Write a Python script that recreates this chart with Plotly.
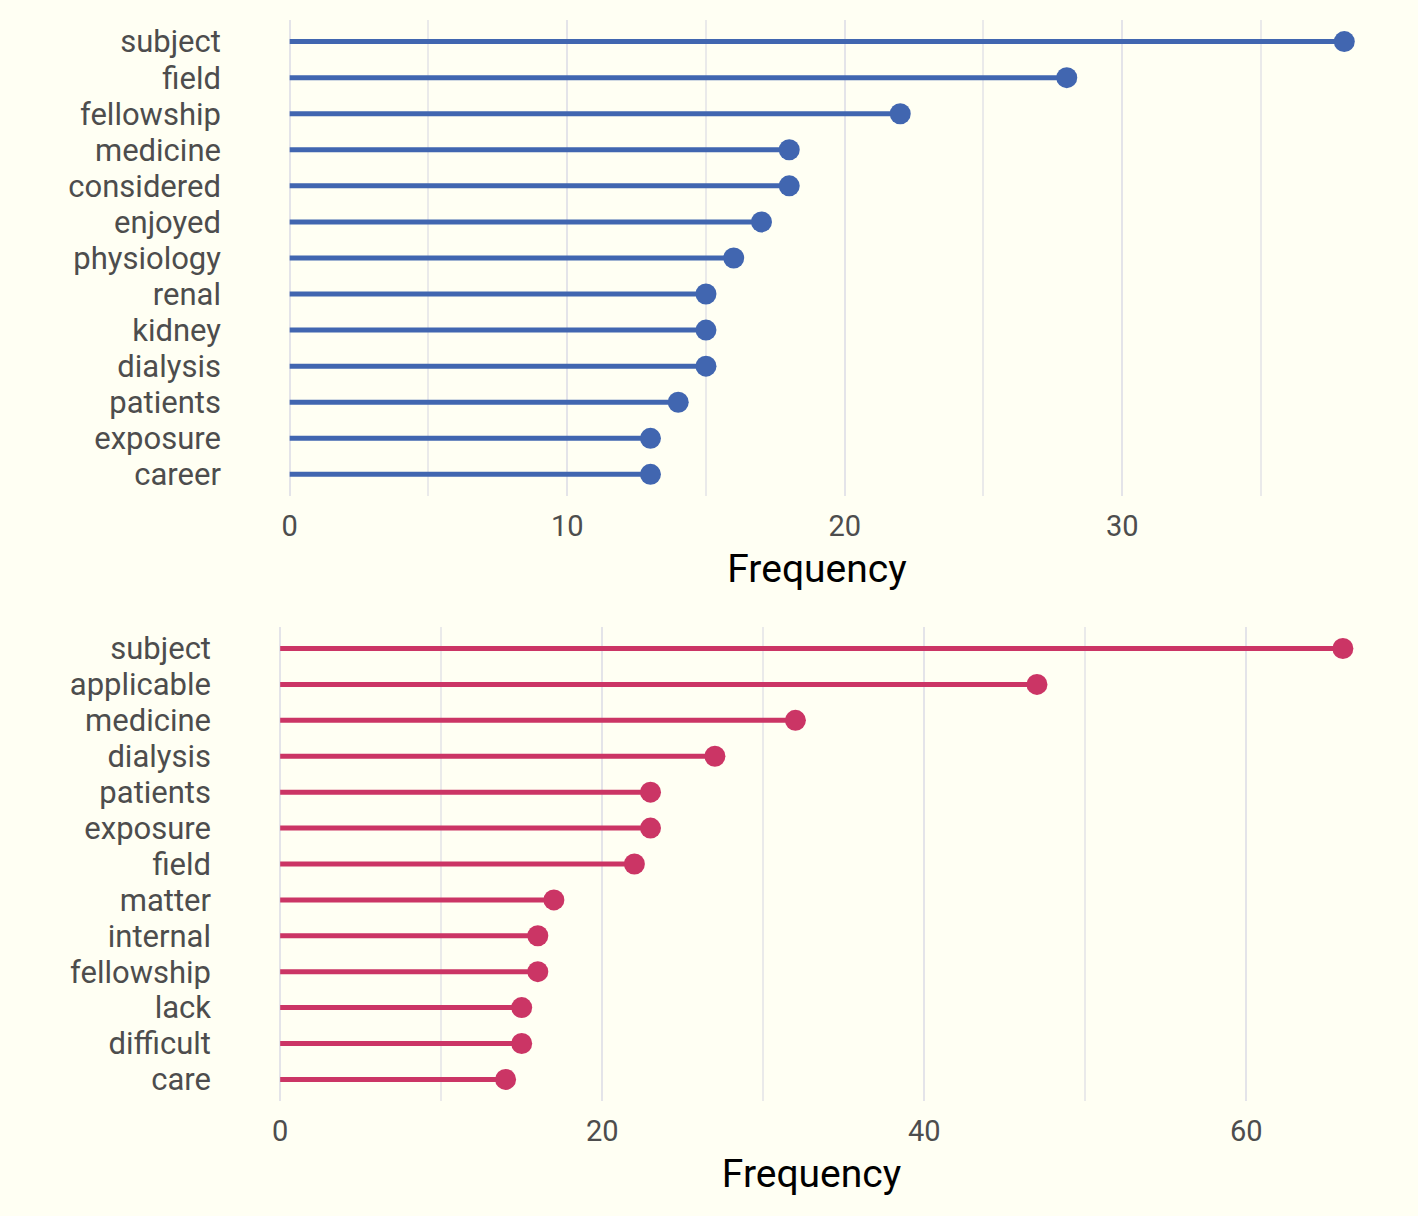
import plotly.graph_objects as go

# word frequencies, top panel (ordered top to bottom)
words_top = ["subject", "field", "fellowship", "medicine", "considered", "enjoyed",
             "physiology", "renal", "kidney", "dialysis", "patients", "exposure", "career"]
freq_top = [38, 28, 22, 18, 18, 17, 16, 15, 15, 15, 14, 13, 13]

# word frequencies, bottom panel
words_bottom = ["subject", "applicable", "medicine", "dialysis", "patients", "exposure", "field",
                "matter", "internal", "fellowship", "lack", "difficult", "care"]
freq_bottom = [66, 47, 32, 27, 23, 23, 22, 17, 16, 16, 15, 15, 14]

BG = "#FFFFF3"
BLUE = "#4166B0"
PINK = "#CB3565"
FONT = "Roboto"


def stems(words, values):
    xs, ys = [], []
    for w, v in zip(words, values):
        xs += [0, v, None]
        ys += [w, w, None]
    return xs, ys


fig = go.Figure()

for words, values, color, xa, ya in [
    (words_top, freq_top, BLUE, "x", "y"),
    (words_bottom, freq_bottom, PINK, "x2", "y2"),
]:
    xs, ys = stems(words, values)
    fig.add_trace(go.Scatter(x=xs, y=ys, mode="lines", line=dict(color=color, width=5),
                             xaxis=xa, yaxis=ya, hoverinfo="skip", showlegend=False))
    fig.add_trace(go.Scatter(x=values, y=words, mode="markers",
                             marker=dict(color=color, size=21),
                             xaxis=xa, yaxis=ya, showlegend=False))


def xaxis_style(domain, anchor, rng, dtick):
    return dict(
        domain=domain, anchor=anchor, range=rng, dtick=dtick,
        showgrid=True, gridcolor="#E4E4E9", gridwidth=2, zeroline=False,
        minor=dict(dtick=dtick / 2, showgrid=True, gridcolor="#EAEAEA", gridwidth=1.5),
        showline=False, ticks="", ticklabelstandoff=10,
        tickfont=dict(family=FONT, size=29, color="#4D4D4D"),
        title=dict(text="Frequency", font=dict(family=FONT, size=39, color="#000000"), standoff=12),
    )


def yaxis_style(domain, anchor, words):
    return dict(
        domain=domain, anchor=anchor, type="category",
        categoryorder="array", categoryarray=words,
        tickmode="array", tickvals=words, ticktext=words,
        range=[len(words) - 0.4, -0.6],
        showgrid=False, zeroline=False, showline=False, ticks="", ticklabelstandoff=15,
        tickfont=dict(family=FONT, size=31, color="#4D4D4D"),
    )


fig.update_layout(
    width=1418, height=1216,
    margin=dict(l=0, r=0, t=0, b=0),
    paper_bgcolor=BG, plot_bgcolor=BG,
    xaxis=xaxis_style([0.1671, 0.9852], "y", [-1.9, 39.9], 10),
    yaxis=yaxis_style([0.5921, 0.9836], "x", words_top),
    xaxis2=xaxis_style([0.1601, 0.9845], "y2", [-3.3, 69.3], 20),
    yaxis2=yaxis_style([0.0946, 0.4844], "x2", words_bottom),
)

fig.write_html("out.html", config={"displayModeBar": False},
               post_script="document.body.style.margin='0';document.body.style.overflow='hidden';")
